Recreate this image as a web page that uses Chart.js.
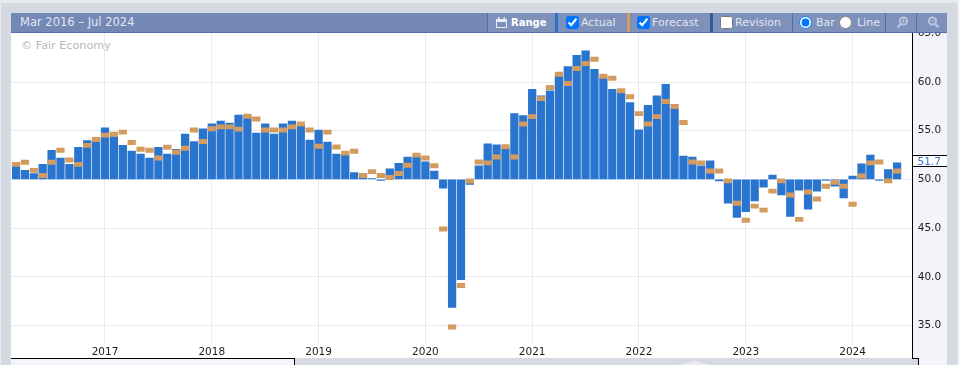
<!DOCTYPE html>
<html>
<head>
<meta charset="utf-8">
<title>Mar 2016 – Jul 2024</title>
<script src="https://cdn.jsdelivr.net/npm/chart.js@4"></script>
<style>
html, body { margin: 0; padding: 0; }
body { width: 959px; height: 365px; overflow: hidden; background: #d5d9e2; position: relative; font-family: "DejaVu Sans", sans-serif; }
div, canvas, label { position: absolute; }
#topstrip { left: 0; top: 0; width: 959px; height: 3px; background: #e7e9ed; }
#rightstrip { left: 957px; top: 0; width: 2px; height: 365px; background: #e7e9ed; }
#leftstrip { left: 0; top: 0; width: 1px; height: 365px; background: #e7e9ed; z-index: 3; }
#leftgutter { left: 1px; top: 3px; width: 10px; height: 362px; background: #d5d9e2; z-index: 2; }
#plotbg { left: 11px; top: 33px; width: 901px; height: 325px; background: #fff; }
#axisbg { left: 912px; top: 33px; width: 34px; height: 332px; background: #f3f4f9; border-left: 1px solid #000; }
#mark { left: 21px; top: 39px; font-size: 11.2px; color: #b9b9b9; white-space: nowrap; }
canvas { left: 0; top: 0; z-index: 1; }
#bottomleft { left: 11px; top: 358px; width: 284px; height: 7px; background: #f3f4f9; border-top: 1px solid #000; border-right: 1px solid #000; box-sizing: border-box; z-index: 2; }
#bottommid { left: 295px; top: 358px; width: 623px; height: 7px; background: #d5d9e2; z-index: 2; }
#bottomnotch { left: 677px; top: 361px; width: 34px; height: 4px; background: #e9ebf0; clip-path: polygon(0 100%, 50% 0, 100% 100%); z-index: 3; }
#bottomright { left: 912px; top: 358px; width: 7px; height: 7px; border-top: 1px solid #000; border-right: 1px solid #000; box-sizing: border-box; z-index: 2; background: #d5d9e2; }
#header { left: 11px; top: 13px; width: 936px; height: 20px; background: #7488b5; border-bottom: 1px solid #4c70b0; box-sizing: border-box; z-index: 4; color: #e2e6f1; font-size: 11px; line-height: 19px; }
.seg { top: 0; height: 19px; background: #7e91bb; border-left: 1px solid #4c70b0; box-sizing: border-box; white-space: nowrap; }
.band { top: 0; width: 3px; height: 19px; }
.seg span { position: absolute; top: 0; }
.seg input { position: absolute; margin: 0; top: 3px; width: 13px; height: 13px; }
.seg svg { position: absolute; }
</style>
</head>
<body>
<div id="topstrip"></div>
<div id="rightstrip"></div>
<div id="leftstrip"></div>
<div id="plotbg"></div>
<div id="axisbg"></div>
<div id="mark">© Fair Economy</div>
<canvas id="myChart" width="959" height="365"></canvas>
<div id="leftgutter"></div>
<div id="bottomleft"></div>
<div id="bottommid"></div>
<div id="bottomnotch"></div>
<div id="bottomright"></div>
<div id="header">
  <span style="position:absolute;left:9px;top:0;font-size:11.5px">Mar 2016 – Jul 2024</span>
  <div class="seg" style="left:476px;width:68px">
    <svg style="left:8px;top:4px" width="11" height="11" viewBox="0 0 11 11"><rect x="0.5" y="2.5" width="10" height="8" fill="none" stroke="#e8ebf4"/><rect x="0.5" y="2.5" width="10" height="2.5" fill="#e8ebf4"/><rect x="2" y="0" width="1.5" height="3" fill="#e8ebf4"/><rect x="7.5" y="0" width="1.5" height="3" fill="#e8ebf4"/></svg>
    <span style="left:23px;color:#fff;font-weight:bold;font-size:10px">Range</span>
  </div>
  <div class="band" style="left:544px;background:#2a74cf"></div>
  <div class="seg" style="left:547px;width:69px;border-left:0">
    <input type="checkbox" checked style="left:8px">
    <span style="left:23px">Actual</span>
  </div>
  <div class="band" style="left:616px;background:#d39b5e"></div>
  <div class="seg" style="left:619px;width:80px;border-left:0">
    <input type="checkbox" checked style="left:7px">
    <span style="left:22px">Forecast</span>
  </div>
  <div class="band" style="left:699px;background:#34599b"></div>
  <div class="seg" style="left:702px;width:79px;border-left:0">
    <input type="checkbox" style="left:7px">
    <span style="left:22px">Revision</span>
  </div>
  <div class="seg" style="left:781px;width:93px">
    <input type="radio" name="kind" checked style="left:6px">
    <span style="left:23px">Bar</span>
    <input type="radio" name="kind" style="left:46px">
    <span style="left:64px">Line</span>
  </div>
  <div class="seg" style="left:874px;width:31px">
    <svg style="left:10px;top:3px" width="13" height="13" viewBox="0 0 13 13"><circle cx="7.5" cy="5" r="3.6" fill="none" stroke="#b9c5de" stroke-width="2"/><path d="M5 8 L1.5 11.5" stroke="#b9c5de" stroke-width="2.4"/><path d="M5.7 5H9.3M7.5 3.2V6.8" stroke="#b9c5de"/></svg>
  </div>
  <div class="seg" style="left:905px;width:31px">
    <svg style="left:10px;top:3px" width="13" height="13" viewBox="0 0 13 13"><circle cx="5.5" cy="5" r="3.6" fill="none" stroke="#b9c5de" stroke-width="2"/><path d="M8 8 L11.5 11.5" stroke="#b9c5de" stroke-width="2.4"/><path d="M3.7 5H7.3" stroke="#b9c5de"/></svg>
  </div>
</div>
<script>
const categories = [
    'Mar 2016','Apr 2016','May 2016','Jun 2016','Jul 2016','Aug 2016','Sep 2016','Oct 2016','Nov 2016','Dec 2016',
    'Jan 2017','Feb 2017','Mar 2017','Apr 2017','May 2017','Jun 2017','Jul 2017','Aug 2017','Sep 2017','Oct 2017','Nov 2017','Dec 2017',
    'Jan 2018','Feb 2018','Mar 2018','Apr 2018','May 2018','Jun 2018','Jul 2018','Aug 2018','Sep 2018','Oct 2018','Nov 2018','Dec 2018',
    'Jan 2019','Feb 2019','Mar 2019','Apr 2019','May 2019','Jun 2019','Jul 2019','Aug 2019','Sep 2019','Oct 2019','Nov 2019','Dec 2019',
    'Jan 2020','Feb 2020','Mar 2020','Apr 2020','May 2020','Jun 2020','Jul 2020','Aug 2020','Sep 2020','Oct 2020','Nov 2020','Dec 2020',
    'Jan 2021','Feb 2021','Mar 2021','Apr 2021','May 2021','Jun 2021','Jul 2021','Aug 2021','Sep 2021','Oct 2021','Nov 2021','Dec 2021',
    'Jan 2022','Feb 2022','Mar 2022','Apr 2022','May 2022','Jun 2022','Jul 2022','Aug 2022','Sep 2022','Oct 2022','Nov 2022','Dec 2022',
    'Jan 2023','Feb 2023','Mar 2023','Apr 2023','May 2023','Jun 2023','Jul 2023','Aug 2023','Sep 2023','Oct 2023','Nov 2023','Dec 2023',
    'Jan 2024','Feb 2024','Mar 2024','Apr 2024','May 2024','Jun 2024','Jul 2024'
];
const actual = [
    51.5,50.93,50.6,51.55,53.0,52.2,51.55,53.3,54.0,54.2,
    55.3,54.4,53.5,52.9,52.6,52.2,53.3,52.6,53.1,54.65,53.9,55.2,
    55.7,56.0,55.8,56.6,56.5,54.76,55.7,54.65,55.7,56.0,55.5,54.03,
    55.07,53.83,52.6,52.5,50.7,50.2,50.1,49.9,51.1,51.65,52.3,52.4,
    51.8,50.86,49.1,36.85,39.7,49.5,51.4,53.65,53.55,53.2,56.76,56.55,
    59.25,58.6,59.1,60.6,61.6,62.76,63.2,61.3,60.4,59.25,58.9,57.9,
    55.1,57.6,58.6,59.76,57.3,52.4,52.3,51.4,51.9,49.85,47.55,46.1,
    46.7,47.8,49.2,50.45,48.4,46.2,48.9,46.95,48.8,49.9,49.3,48.1,
    50.35,51.6,52.5,49.9,51.0,51.7,null
];
const forecast = [
    51.55,51.76,50.93,50.4,51.76,53.0,52.0,51.55,53.5,54.1,
    54.55,54.65,54.86,53.8,53.1,53.0,52.2,53.3,52.8,53.2,55.07,53.9,
    55.2,55.4,55.4,55.17,56.5,56.2,55.07,55.07,55.07,55.4,55.7,55.07,
    53.4,54.86,53.34,52.7,52.9,50.4,50.8,50.4,50.2,50.6,51.45,52.5,
    52.2,51.4,44.9,34.85,39.1,49.83,51.8,51.7,52.3,53.35,52.3,55.7,
    56.45,58.3,59.45,60.8,59.86,61.4,61.9,62.35,60.6,60.4,59.1,58.5,
    56.76,55.7,56.45,58.0,57.5,55.85,51.8,51.7,50.87,50.87,49.85,47.55,
    45.8,47.26,46.85,48.8,49.85,48.4,45.9,48.7,48.0,49.3,49.7,49.3,
    47.45,50.35,51.7,51.8,49.85,50.87,null
];
// first entry is Jan 2016, two months before the data starts, so the label is mostly cut off
const yearTickIndex = [-2, 10, 22, 34, 46, 58, 70, 82, 94];
const yearTickLabels = ['2016', '2017', '2018', '2019', '2020', '2021', '2022', '2023', '2024'];
const lastValue = 51.7;

const axisFont = { family: '"DejaVu Sans", sans-serif', size: 10.5 };
const dashHalf = 0.22;

// little box on the y axis with the latest value
const lastValueBox = {
    id: 'lastValueBox',
    afterDraw(chart) {
        const ctx = chart.ctx;
        const y = Math.round(chart.scales.y.getPixelForValue(lastValue)) - 1;
        ctx.save();
        ctx.fillStyle = '#fff';
        ctx.fillRect(913, y - 6, 34, 11);
        ctx.fillStyle = '#000';
        ctx.fillRect(912, y - 7, 35, 1);
        ctx.fillRect(912, y + 4, 35, 1);
        ctx.fillStyle = '#2f77cf';
        ctx.font = '10.5px "DejaVu Sans", sans-serif';
        ctx.textBaseline = 'middle';
        ctx.fillText(String(lastValue), 917.5, y);
        ctx.restore();
    }
};

function createChart() {
    const config = {
        type: 'bar',
        data: {
            datasets: [{
                label: 'Forecast',
                data: forecast.map((v, i) => ({ x: i, y: v === null ? null : [v - dashHalf, v + dashHalf] })),
                backgroundColor: '#d39b5e',
                barThickness: 7.6,
                grouped: false,
                order: 1
            }, {
                label: 'Actual',
                data: actual.map((v, i) => ({ x: i, y: v })),
                base: 50,
                backgroundColor: '#2874cf',
                barThickness: 7.6,
                grouped: false,
                order: 2
            }]
        },
        options: {
            responsive: false,
            animation: false,
            layout: { padding: { left: 11.55, top: 33.4, right: 0, bottom: 7 } },
            plugins: { legend: { display: false }, tooltip: { enabled: false } },
            scales: {
                x: {
                    type: 'linear',
                    offset: false,
                    min: -0.5,
                    max: 100.7,
                    afterBuildTicks(axis) { axis.ticks = yearTickIndex.map(v => ({ value: v })); },
                    afterFit(axis) { axis.height = 15; axis.paddingLeft = 0; axis.paddingRight = 0; },
                    grid: { offset: false, color: '#e9eaf2', drawTicks: false },
                    border: { display: false },
                    ticks: {
                        autoSkip: false,
                        maxRotation: 0,
                        padding: 3,
                        color: '#1c1c1c',
                        font: axisFont,
                        callback: value => yearTickLabels[yearTickIndex.indexOf(value)]
                    }
                },
                y: {
                    position: 'right',
                    min: 33.2,
                    max: 65,
                    afterFit(axis) { axis.width = 46.8; axis.paddingTop = 0; axis.paddingBottom = 0; },
                    grid: { color: ctx => ctx.tick.value >= 65 ? 'transparent' : '#e9eaf2', drawTicks: false },
                    border: { display: false },
                    ticks: {
                        stepSize: 5,
                        includeBounds: false,
                        padding: 5.5,
                        color: '#1c1c1c',
                        font: axisFont,
                        callback: value => value.toFixed(1)
                    }
                }
            }
        },
        plugins: [lastValueBox]
    };
    new Chart(document.getElementById('myChart'), config);
}

createChart();
</script>
</body>
</html>
